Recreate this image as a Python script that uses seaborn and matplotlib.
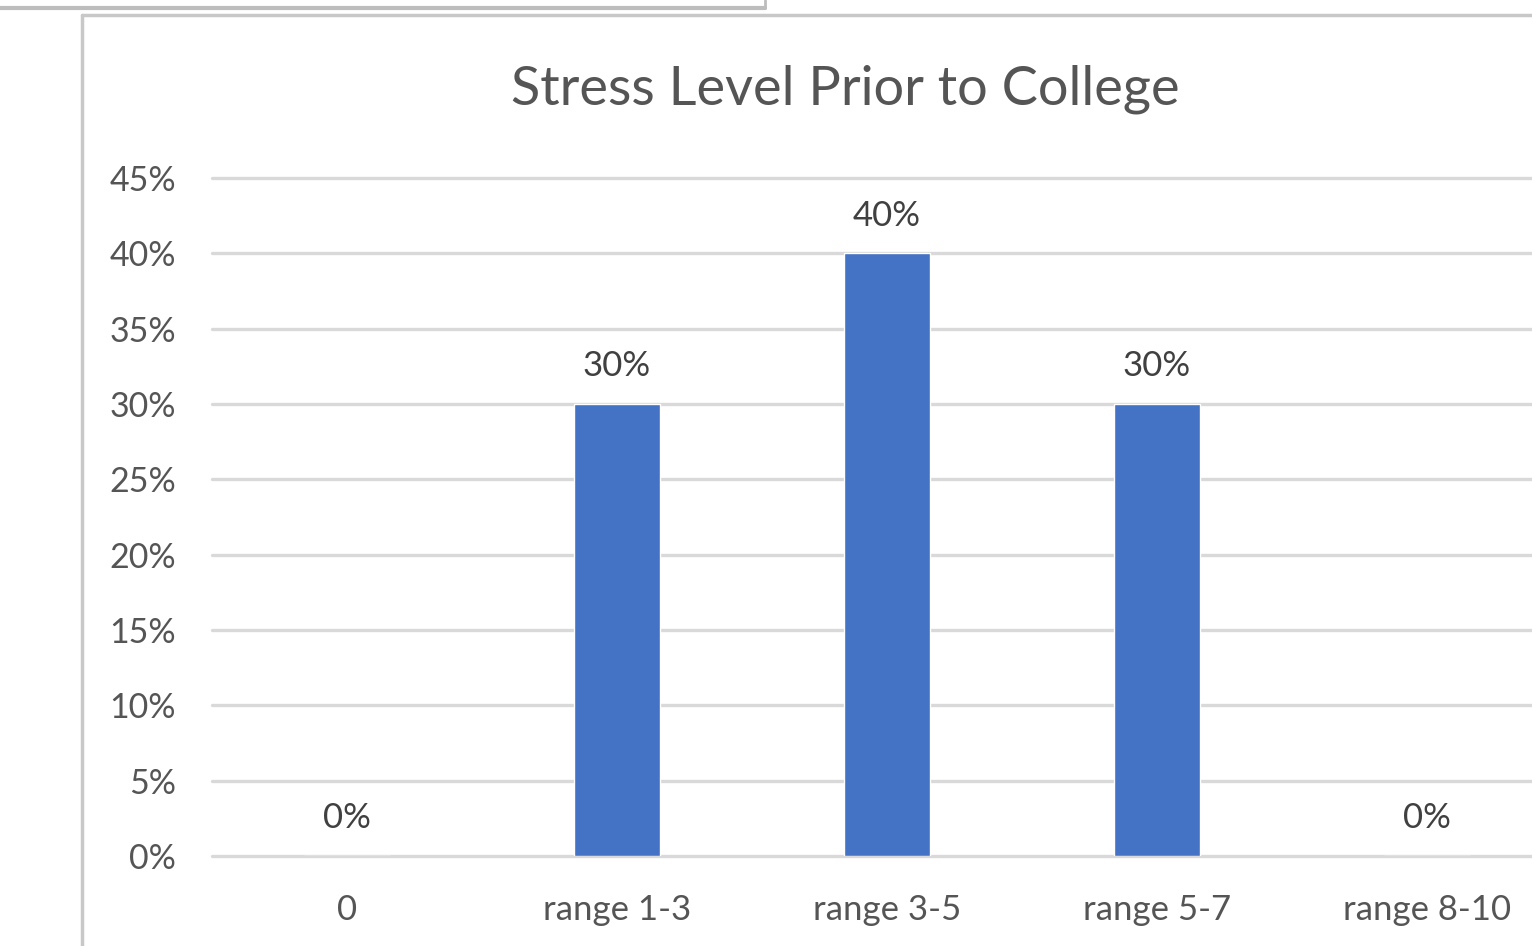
import matplotlib
matplotlib.use("Agg")
import matplotlib.pyplot as plt
import seaborn as sns
import pandas as pd
from matplotlib.ticker import FuncFormatter, FixedLocator
from matplotlib.lines import Line2D

categories = ["0", "range 1-3", "range 3-5", "range 5-7", "range 8-10"]
values = [0.0, 0.30, 0.40, 0.30, 0.0]
y_ticks = [0.0, 0.05, 0.10, 0.15, 0.20, 0.25, 0.30, 0.35, 0.40, 0.45]
title = "Stress Level Prior to College"

sns.set_theme(style="white")
plt.rcParams["font.family"] = ["Lato", "DejaVu Sans"]

W, H = 1532, 946
fig = plt.figure(figsize=(W / 100, H / 100), dpi=100)
fig.patch.set_facecolor("white")

x0, x1 = 212, 1562
y0, y1 = 856, 178
ax = fig.add_axes([x0 / W, (H - y0) / H, (x1 - x0) / W, (y0 - y1) / H])

df = pd.DataFrame({"cat": categories, "val": values})
sns.barplot(data=df, x="cat", y="val", color="#4472C4", width=0.315,
            saturation=1, ax=ax, zorder=3)

ax.set_ylim(0, 0.45)
ax.set_xlim(-0.5, len(categories) - 0.5)
ax.yaxis.set_major_locator(FixedLocator(y_ticks))
ax.yaxis.set_major_formatter(FuncFormatter(lambda v, p: f"{v*100:.0f}%"))
ax.grid(axis="y", color="#D9D9D9", linewidth=2.4, zorder=0)
ax.grid(axis="x", visible=False)
ax.set_axisbelow(True)
for gl in ax.get_ygridlines():
    gl.set_clip_on(False)
for s in ax.spines.values():
    s.set_visible(False)
ax.set_xlabel("")
ax.set_ylabel("")
ax.tick_params(axis="y", length=0, pad=26, labelsize=24.5, labelcolor="#555555")
ax.tick_params(axis="x", length=0, pad=27, labelsize=25, labelcolor="#555555")

for i, v in enumerate(values):
    ax.annotate(f"{v*100:.0f}%", xy=(i, v), xytext=(0, 15.5), textcoords="offset points",
                ha="center", va="bottom", fontsize=25, color="#404040")

fig.text(845 / W, 1 - 89 / H, title, ha="center", va="center",
         fontsize=39, color="#555555")

# screenshot frame lines
fig.add_artist(Line2D([82 / W, 82 / W], [0, 1 - 15 / H], transform=fig.transFigure,
                      color="#C8C8C8", linewidth=2.5))
fig.add_artist(Line2D([82 / W, 1], [1 - 15 / H, 1 - 15 / H], transform=fig.transFigure,
                      color="#C8C8C8", linewidth=2.5))
fig.add_artist(Line2D([0, 765 / W], [1 - 8 / H, 1 - 8 / H], transform=fig.transFigure,
                      color="#BDBDBD", linewidth=3))
fig.add_artist(Line2D([765 / W, 765 / W], [1 - 8 / H, 1], transform=fig.transFigure,
                      color="#BDBDBD", linewidth=2))

fig.savefig("out.png", dpi=100)
